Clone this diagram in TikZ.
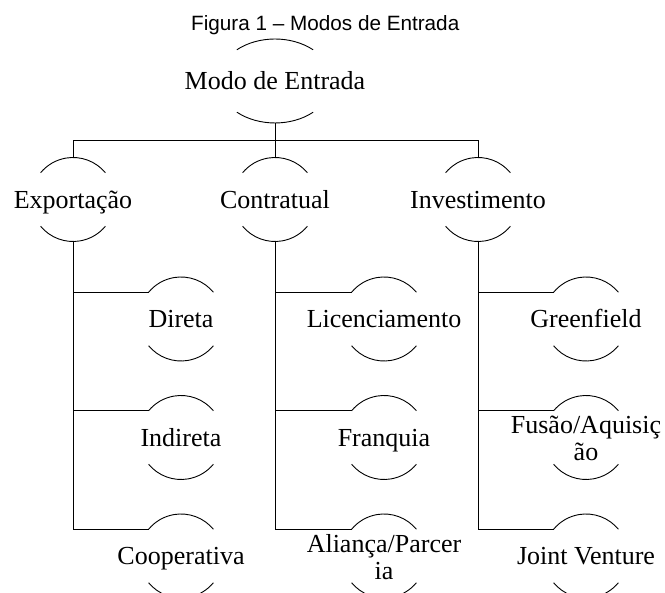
\documentclass[tikz,border=0pt]{standalone}
\usepackage{fontspec}
\setmainfont{Liberation Serif}
\newfontfamily\captionfnt{Liberation Sans}
\tikzset{
  lbl/.style={font=\fontsize{26}{27}\selectfont, inner sep=0pt, text height=17.2pt, text depth=0pt},
  lbltwo/.style={font=\fontsize{26}{27}\selectfont, inner sep=0pt, align=center},
  ln/.style={line width=0.9pt, black},
}
\begin{document}
\begin{tikzpicture}[x=1pt,y=1pt]
\clip (0,0) rectangle (665,593);
\useasboundingbox (0,0) rectangle (665,593);
% title
\node[font=\captionfnt\fontsize{20.7}{24}\selectfont, anchor=base west, inner sep=0pt] (title) at (191,562.5) {Figura 1 – Modos de Entrada};
% centres
\coordinate (root-c) at (275,512);
\coordinate (exp-c) at (73,393.5);
\coordinate (con-c) at (275,393.5);
\coordinate (inv-c) at (478,393.5);
\coordinate (d1-c) at (181,274);
\coordinate (d2-c) at (181,155.5);
\coordinate (d3-c) at (181,37);
\coordinate (c1-c) at (384,274);
\coordinate (c2-c) at (384,155.5);
\coordinate (c3-c) at (384,37);
\coordinate (i1-c) at (586,274);
\coordinate (i2-c) at (586,155.5);
\coordinate (i3-c) at (586,37);
% labels
\node[lbl] (root) at (root-c) {Modo de Entrada};
\node[lbl] (exp) at (exp-c) {Exportação};
\node[lbl] (con) at (con-c) {Contratual};
\node[lbl] (inv) at (inv-c) {Investimento};
\node[lbl] (d1) at (d1-c) {Direta};
\node[lbl] (d2) at (d2-c) {Indireta};
\node[lbl] (d3) at (d3-c) {Cooperativa};
\node[lbl] (c1) at (c1-c) {Licenciamento};
\node[lbl] (c2) at (c2-c) {Franquia};
\node[lbltwo] (c3) at ([yshift=-1.2pt]c3-c) {Aliança/Parcer\\ia};
\node[lbl] (i1) at (i1-c) {Greenfield};
\node[lbltwo] (i2) at ([yshift=-1.2pt]i2-c) {Fusão/Aquisiç\\ão};
\node[lbl] (i3) at (i3-c) {Joint Venture};
% arcs
\draw[ln] ([shift={(38.1pt,31.2pt)}]root-c) arc[start angle=48,end angle=132,x radius=57pt,y radius=42pt];
\draw[ln] ([shift={(-38.1pt,-31.2pt)}]root-c) arc[start angle=228,end angle=312,x radius=57pt,y radius=42pt];
\foreach \n in {exp,con,inv,d1,d2,d3,c1,c2,c3,i1,i2,i3}{
  \draw[ln] ([shift={(39.5:42pt)}]\n-c) arc[start angle=39.5,end angle=140.5,radius=42pt];
  \draw[ln] ([shift={(219.5:42pt)}]\n-c) arc[start angle=219.5,end angle=320.5,radius=42pt];
}
% connectors
\coordinate (j) at (275,453);
\draw[ln] ([yshift=-42pt]root-c) -- (j);
\draw[ln] ([yshift=42pt]exp-c) |- (j);
\draw[ln] ([yshift=42pt]con-c) -- (j);
\draw[ln] ([yshift=42pt]inv-c) |- (j);
\foreach \p/\c in {exp/d1,exp/d2,exp/d3,con/c1,con/c2,con/c3,inv/i1,inv/i2,inv/i3}{
  \draw[ln] ([yshift=-42pt]\p-c) |- ([shift={(140.5:42pt)}]\c-c);
}
\end{tikzpicture}
\end{document}
